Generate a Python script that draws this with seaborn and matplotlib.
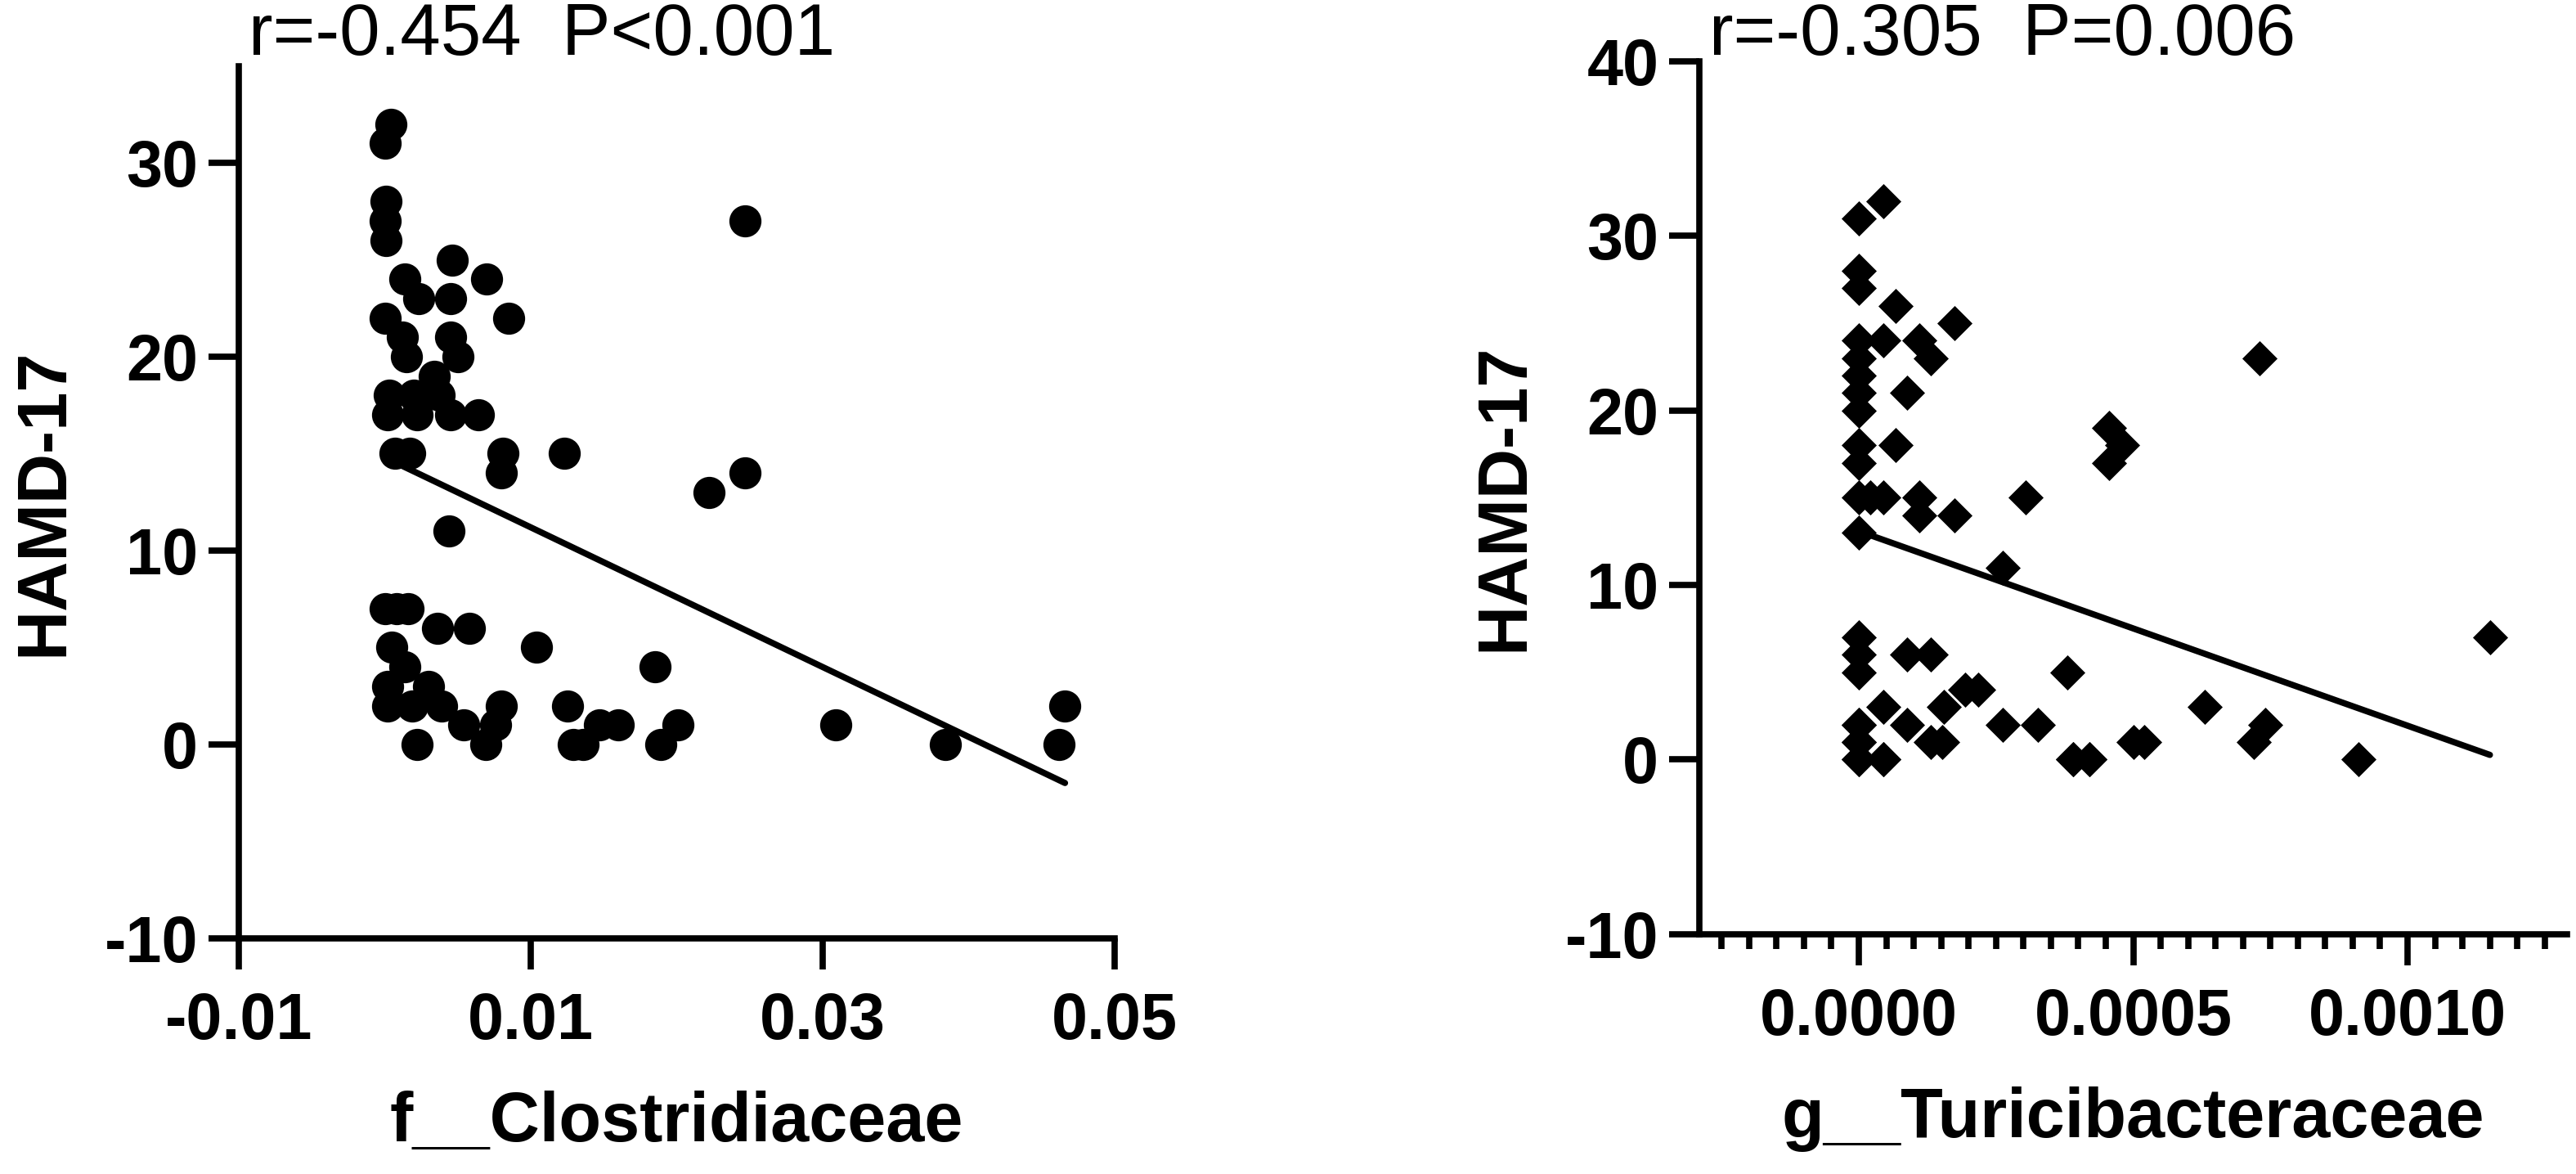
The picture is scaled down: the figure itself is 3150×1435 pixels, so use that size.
import numpy as np
import pandas as pd
import seaborn as sns
from matplotlib import pyplot as plt
from matplotlib.ticker import MultipleLocator, FixedLocator

# left panel: f__Clostridiaceae vs HAMD-17
clos_x = [0.0004, 0.0, 0.0001, 0.0, 0.0001,
          0.0046, 0.0070, 0.0014, 0.0085, 0.0023, 0.0045, 0.0, 0.0012, 0.0045,
          0.0015, 0.0050, 0.0034, 0.0003, 0.0020, 0.0037, 0.0002, 0.0022, 0.0045,
          0.0064, 0.0007, 0.0017, 0.0081, 0.0080, 0.0123, 0.0247, 0.0247, 0.0222,
          0.0044, 0.0, 0.0008, 0.0016, 0.0036, 0.0058, 0.0104, 0.0005, 0.0185,
          0.0014, 0.0002, 0.0030, 0.0002, 0.0019, 0.0039, 0.0080, 0.0125, 0.0054,
          0.0076, 0.0147, 0.0160, 0.0201, 0.0022, 0.0069, 0.0129, 0.0136, 0.0189,
          0.0309, 0.0384, 0.0466, 0.0462]
clos_y = [32, 31, 28, 27, 26,
          25, 24, 24, 22, 23, 23, 22, 21, 21,
          20, 20, 19, 18, 18, 18, 17, 17, 17,
          17, 15, 15, 15, 14, 15, 27, 14, 13,
          11, 7, 7, 7, 6, 6, 5, 5, 4,
          4, 3, 3, 2, 2, 2, 2, 2, 1,
          1, 1, 1, 1, 0, 0, 0, 0, 0,
          1, 0, 2, 0]

# right panel: g__Turicibacteraceae vs HAMD-17
# (several samples sit exactly on top of each other at low abundance)
turi_x = [0.0, 0.0, 0.0, 0.0, 0.0, 0.0, 0.0, 0.0, 0.0, 0.0, 0.0, 0.0,
          0.0, 0.0, 0.0, 0.0, 0.0, 0.0,
          0.000044, 0.000067, 0.000175, 0.000044, 0.00011, 0.000131, 0.0000875,
          0.000067, 0.000021, 0.000044, 0.00011, 0.000304, 0.00011, 0.000175,
          0.000263, 0.0000875, 0.000131, 0.00038, 0.000044, 0.000155, 0.000194,
          0.000218, 0.0000875, 0.000263, 0.000327, 0.000131, 0.000152, 0.000044,
          0.00039, 0.00042,
          0.00073, 0.000456, 0.00048, 0.000456, 0.00115, 0.00063, 0.00074,
          0.00072, 0.00091, 0.0005, 0.00052,
          0.0, 0.0, 0.0, 0.000044, 0.00039, 0.00042]
turi_y = [31, 28, 27, 24, 23, 22, 21, 20, 18, 17, 15, 13,
          7, 6, 5, 2, 1, 0,
          32, 26, 25, 24, 24, 23, 21,
          18, 15, 15, 15, 15, 14, 14,
          11, 6, 6, 5, 3, 3, 4,
          4, 2, 2, 2, 1, 1, 0,
          0, 0,
          23, 19, 18, 17, 7, 3, 2,
          1, 0, 1, 1,
          0, 1, 2, 0, 0, 0]

left_df = pd.DataFrame({'x': clos_x, 'HAMD': clos_y})
right_df = pd.DataFrame({'x': turi_x, 'HAMD': turi_y})

sns.set_style('ticks', {'axes.edgecolor': 'black', 'text.color': 'black',
                        'xtick.color': 'black', 'ytick.color': 'black',
                        'axes.labelcolor': 'black'})
plt.rcParams['font.family'] = ['Liberation Sans', 'DejaVu Sans']
plt.rcParams['axes.unicode_minus'] = False

fig = plt.figure(figsize=(31.5, 14.35), dpi=100)
ax1 = fig.add_axes([0.0927, 0.2007, 0.340, 0.7432])
ax2 = fig.add_axes([0.6598, 0.2045, 0.3366, 0.7433])

sns.regplot(data=left_df, x='x', y='HAMD', ax=ax1, ci=None, marker='o',
            scatter_kws={'s': 800, 'color': 'black', 'alpha': 1, 'linewidths': 0},
            line_kws={'color': 'black', 'lw': 5.5})
sns.regplot(data=right_df, x='x', y='HAMD', ax=ax2, ci=None, marker='D',
            scatter_kws={'s': 480, 'color': 'black', 'alpha': 1, 'linewidths': 0},
            line_kws={'color': 'black', 'lw': 5.5})

ax1.set_xlim(-0.01, 0.05)
ax1.set_ylim(-10, 35)
ax1.xaxis.set_major_locator(FixedLocator([-0.01, 0.01, 0.03, 0.05]))
ax1.set_xticklabels(['-0.01', '0.01', '0.03', '0.05'])
ax1.yaxis.set_major_locator(FixedLocator([-10, 0, 10, 20, 30]))

ax2.set_xlim(-0.00029, 0.00129)
ax2.set_ylim(-10, 40)
ax2.xaxis.set_major_locator(FixedLocator([0.0, 0.0005, 0.0010]))
ax2.set_xticklabels(['0.0000', '0.0005', '0.0010'])
ax2.xaxis.set_minor_locator(MultipleLocator(0.00005))
ax2.yaxis.set_major_locator(FixedLocator([-10, 0, 10, 20, 30, 40]))

for ax, xl in [(ax1, 'f__Clostridiaceae'), (ax2, 'g__Turicibacteraceae')]:
    ax.spines['right'].set_visible(False)
    ax.spines['top'].set_visible(False)
    ax.spines['left'].set_linewidth(5.5)
    ax.spines['bottom'].set_linewidth(5.5)
    ax.tick_params(axis='both', which='major', length=27, width=5.5,
                   labelsize=57)
    ax.tick_params(axis='x', which='major', pad=20)
    ax.tick_params(axis='y', which='major', pad=9)
    ax.tick_params(axis='x', which='minor', length=13, width=5.5)
    for lab in ax.get_xticklabels() + ax.get_yticklabels():
        lab.set_fontweight('bold')
    ax.set_xlabel(xl, fontsize=61, fontweight='bold', labelpad=33)
    ax.set_ylabel('HAMD-17', fontsize=61, fontweight='bold', labelpad=24)

fig.text(0.0965, 0.953, 'r=-0.454  P<0.001', fontsize=64, va='baseline')
fig.text(0.6635, 0.953, 'r=-0.305  P=0.006', fontsize=64, va='baseline')

plt.savefig('out.png', dpi=100)
